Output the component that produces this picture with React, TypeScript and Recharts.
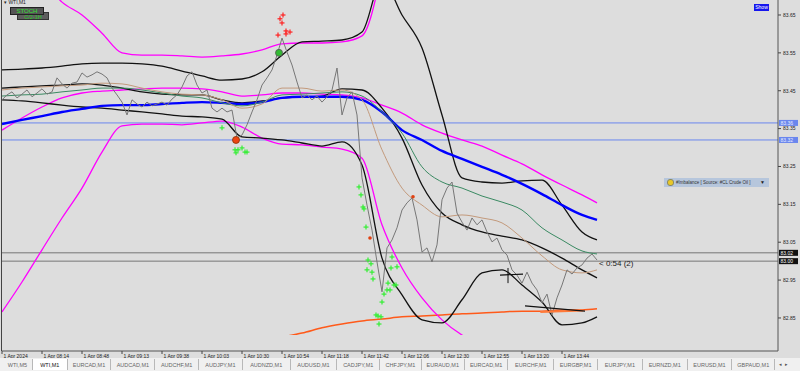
import React from 'react';
import { ComposedChart, Line, Scatter, XAxis, YAxis, ReferenceLine, ReferenceDot } from 'recharts';

// WTI,M1 — price sampled every 3 bars, indicators every 12 bars (last one at bar 357)
const PRICE_STEP = 3;
const BAND_STEP = 12;
const LAST_BAR = 357;
const X_MAX = 465.6;

const price = [
  83.426, 83.439, 83.447, 83.431, 83.441, 83.452, 83.434, 83.444, 83.455, 83.441,
  83.447, 83.484, 83.468, 83.457, 83.470, 83.473, 83.497, 83.486, 83.492, 83.500,
  83.494, 83.484, 83.457, 83.439, 83.420, 83.386, 83.426, 83.415, 83.407, 83.420,
  83.410, 83.415, 83.420, 83.412, 83.428, 83.439, 83.460, 83.489, 83.500, 83.465,
  83.444, 83.452, 83.404, 83.394, 83.404, 83.394, 83.399, 83.325, 83.333, 83.360,
  83.394, 83.426, 83.465, 83.484, 83.505, 83.544, 83.589, 83.552, 83.518, 83.473,
  83.431, 83.439, 83.426, 83.436, 83.420, 83.434, 83.452, 83.510, 83.386, 83.431,
  83.447, 83.386, 83.220, 83.148, 83.082, 82.998, 82.919, 83.035, 83.056, 83.088,
  83.135, 83.154, 83.167, 83.109, 83.024, 83.035, 82.998, 83.043, 83.162, 83.193,
  83.209, 83.127, 83.103, 83.082, 83.114, 83.096, 83.109, 83.077, 83.051, 83.061,
  83.030, 83.016, 82.977, 82.963, 82.942, 82.971, 82.942, 82.924, 82.890, 82.913,
  82.858, 82.903, 82.937, 82.977, 82.966, 82.982, 82.990, 83.008, 83.019, 83.003,
];

const upperBand = [
  83.505, 83.507, 83.510, 83.515, 83.521, 83.523, 83.523, 83.521, 83.515, 83.502,
  83.489, 83.478, 83.481, 83.500, 83.544, 83.579, 83.581, 83.584, 83.605, 83.742,
  83.650, 83.563, 83.386, 83.220, 83.209, 83.206, 83.212, 83.214, 83.148, 83.077, 83.056,
];
const midBand = [
  83.457, 83.460, 83.463, 83.465, 83.468, 83.465, 83.457, 83.447, 83.441, 83.439,
  83.439, 83.426, 83.418, 83.423, 83.431, 83.434, 83.436, 83.455, 83.452, 83.404,
  83.325, 83.201, 83.127, 83.096, 83.077, 83.066, 83.056, 83.035, 83.008, 82.977, 82.956,
];
const lowBand = [
  83.426, 83.423, 83.418, 83.412, 83.407, 83.404, 83.399, 83.394, 83.389, 83.383,
  83.381, 83.375, 83.328, 83.325, 83.320, 83.312, 83.304, 83.315, 83.254, 83.008,
  82.911, 82.845, 82.837, 82.898, 82.969, 82.977, 82.937, 82.892, 82.832, 82.837, 82.853,
];
const outerUpper = [
  83.848, 83.795, 83.742, 83.684, 83.650, 83.602, 83.550, 83.544, 83.544, 83.542,
  83.539, 83.542, 83.547, 83.558, 83.574, 83.576, 83.576, 83.579, 83.595, 83.769,
  null, null, null, null, null, null, null, null, null, null, null,
];
const midMagenta = [
  83.346, 83.378, 83.407, 83.431, 83.444, 83.449, 83.452, 83.455, 83.457, 83.457,
  83.455, 83.447, 83.436, 83.439, 83.444, 83.444, 83.441, 83.439, 83.431, 83.412,
  83.391, 83.360, 83.338, 83.320, 83.304, 83.280, 83.257, 83.228, 83.201, 83.175, 83.154,
];
const outerLower = [
  82.866, 82.945, 83.030, 83.114, 83.193, 83.288, 83.357, 83.362, 83.362, 83.360,
  83.365, 83.370, 83.354, 83.325, 83.309, 83.307, 83.301, 83.296, 83.272, 83.096,
  82.982, 82.903, 82.845, 82.805, 82.779, 82.760, 82.744, 82.734, 82.726, 82.721, 82.718,
];
const blueMa = [
  83.362, 83.373, 83.383, 83.394, 83.402, 83.410, 83.412, 83.412, 83.415, 83.418,
  83.420, 83.418, 83.415, 83.420, 83.431, 83.434, 83.434, 83.434, 83.426, 83.394,
  83.346, 83.320, 83.291, 83.270, 83.249, 83.228, 83.204, 83.177, 83.148, 83.122, 83.109,
];
const greenMa = [
  83.436, 83.439, 83.441, 83.447, 83.452, 83.457, 83.457, 83.452, 83.444, 83.436,
  83.431, 83.418, 83.410, 83.420, 83.439, 83.441, 83.444, 83.447, 83.436, 83.394,
  83.338, 83.249, 83.209, 83.193, 83.172, 83.156, 83.135, 83.088, 83.056, 83.027, 83.019,
];
const brownMa = [
  83.452, 83.457, 83.460, 83.463, 83.465, 83.470, 83.468, 83.457, 83.447, 83.441,
  83.439, 83.426, 83.404, 83.415, 83.457, 83.457, 83.449, 83.452, 83.426, 83.294,
  83.193, 83.148, 83.117, 83.122, 83.114, 83.101, 83.061, 83.014, 82.977, 82.969, 82.977,
];
const slowEma = [
  null, null, null, null, null, null, null, null, null, null, null, null, null, null,
  82.800, 82.810, 82.824, 82.834, 82.842, 82.847, 82.853, 82.855, 82.858, 82.861,
  82.863, 82.866, 82.868, 82.868, 82.871, 82.871, 82.874,
];

// signals: [bar, price]
const sellSignals = [
  [168.6, 83.650], [166.8, 83.640], [168.0, 83.629], [165.6, 83.597],
  [170.4, 83.608], [172.8, 83.605], [170.4, 83.600],
];
const buySignals = [
  [132, 83.352], [139.8, 83.294], [141.6, 83.294], [144, 83.299], [145.8, 83.288],
  [147, 83.288], [140.4, 83.286], [214.2, 83.196], [215.4, 83.175], [216.6, 83.143],
  [217.2, 83.138], [218.4, 83.090], [219.6, 83.003], [221.4, 82.993], [219, 82.977],
  [222, 82.971], [222.6, 82.953], [228, 82.892], [229.2, 82.913], [231, 82.924],
  [231.6, 82.942], [232.8, 82.924], [235.2, 82.937], [236.4, 82.937], [233.4, 82.982],
  [237, 82.985], [234, 83.011], [224.4, 82.858], [225.6, 82.855], [227.4, 82.853],
  [226.2, 82.834],
];
const smallDots = [[220.8, 83.061], [246.6, 83.170]];

const yTicks = [82.85, 82.95, 83.05, 83.15, 83.25, 83.35, 83.45, 83.55, 83.65];
const timeBars = [0, 24, 48, 72, 96, 120, 144, 168, 192, 216, 240, 264, 288, 312, 336];
const timeLabels = [
  '1 Apr 2024', '1 Apr 08:14', '1 Apr 08:48', '1 Apr 09:13', '1 Apr 09:38',
  '1 Apr 10:03', '1 Apr 10:30', '1 Apr 10:54', '1 Apr 11:18', '1 Apr 11:42',
  '1 Apr 12:06', '1 Apr 12:30', '1 Apr 12:55', '1 Apr 13:20', '1 Apr 13:44',
];
const tabs = [
  'WTI,M5', 'WTI,M1', 'EURCAD,M1', 'AUDCAD,M1', 'AUDCHF,M1', 'AUDJPY,M1', 'AUDNZD,M1',
  'AUDUSD,M1', 'CADJPY,M1', 'CHFJPY,M1', 'EURAUD,M1', 'EURCAD,M1', 'EURCHF,M1',
  'EURGBP,M1', 'EURJPY,M1', 'EURNZD,M1', 'EURUSD,M1', 'GBPAUD,M1',
];
const tabWidths = [30, 35, 44, 44, 44, 44, 48, 47, 43, 42, 43, 44, 46, 44, 45, 45, 45, 43];
const stripes = [3.25, 2.4, 1.5, 0.6];

const bandBars = upperBand.map((_, i) => Math.min(i * BAND_STEP, LAST_BAR));
const table = price.map((p, i) => {
  const bar = i * PRICE_STEP;
  const row: any = { bar, price: p };
  const j = bandBars.indexOf(bar);
  if (j >= 0) {
    row.upper = upperBand[j];
    row.mid = midBand[j];
    row.low = lowBand[j];
    row.outerUp = outerUpper[j];
    row.magMid = midMagenta[j];
    row.outerLow = outerLower[j];
    row.blue = blueMa[j];
    row.green = greenMa[j];
    row.brown = brownMa[j];
    row.ema = slowEma[j];
  }
  return row;
});
const toPts = (arr: number[][]) => arr.map(([bar, v]) => ({ bar, v }));

const FONT = '"Liberation Sans", Arial, sans-serif';

const Cross = (color: string) => (props: any) => {
  const { cx, cy } = props;
  return (
    <g stroke={color} strokeWidth={1.2}>
      <line x1={cx - 2.5} y1={cy} x2={cx + 2.5} y2={cy} />
      <line x1={cx} y1={cy - 2.5} x2={cx} y2={cy + 2.5} />
    </g>
  );
};

const priceTag = (text: string, bg: string, fg: string) => (props: any) => {
  const vb = props.viewBox || {};
  const x = (vb.x || 0) + (vb.width || 0) + 1;
  const y = vb.y || 0;
  return (
    <g>
      <rect x={x} y={y - 3} width={19} height={6} fill={bg} />
      <text x={x + 1.5} y={y + 2} fontSize={5} fill={fg} fontFamily={FONT}>{text}</text>
    </g>
  );
};

const timerLabel = (props: any) => {
  const vb = props.viewBox || {};
  return (
    <text x={(vb.cx ?? vb.x) + 2} y={(vb.cy ?? vb.y) + 6} fontSize={8} fill="#222" fontFamily={FONT}>
      {'< 0:54 (2)'}
    </text>
  );
};

const TimeTick = (props: any) => {
  const { x, y, payload } = props;
  const idx = timeBars.indexOf(payload.value);
  return (
    <g>
      <line x1={x} y1={y} x2={x} y2={y + 3} stroke="#444" />
      <text x={x + 1.5} y={y + 6.5} fontSize={5} fill="#222" fontFamily={FONT}>{timeLabels[idx]}</text>
    </g>
  );
};

export default function App() {
  return (
    <div style={{ position: 'absolute', left: 0, top: 0, width: 800, height: 371, background: '#dddddd', overflow: 'hidden', fontFamily: FONT }}>
      <ComposedChart width={800} height={335} data={table} margin={{ top: 0, right: 0, left: 2, bottom: 0 }}>
        <XAxis type="number" dataKey="bar" domain={[0, X_MAX]} hide allowDataOverflow />
        <YAxis
          orientation="right"
          domain={[82.805, 83.6896]}
          ticks={yTicks}
          width={22}
          allowDataOverflow
          tickSize={3}
          tickMargin={2}
          tick={{ fontSize: 5, fill: '#222' }}
          tickLine={{ stroke: '#444' }}
          axisLine={{ stroke: '#555' }}
          tickFormatter={(v: number) => v.toFixed(2)}
        />
        <ReferenceLine y={83.365} stroke="#6a86ee" label={priceTag('83.36', '#6a86ee', '#e8eeff')} />
        <ReferenceLine y={83.32} stroke="#6a86ee" label={priceTag('83.32', '#6a86ee', '#e8eeff')} />
        <ReferenceLine y={83.022} stroke="#777" label={priceTag('83.02', '#111', '#fff')} />
        <ReferenceLine y={83.0} stroke="#777" label={priceTag('83.00', '#111', '#fff')} />

        <Line dataKey="ema" type="monotone" stroke="#ff5a1a" strokeWidth={1.5} dot={false} connectNulls isAnimationActive={false} />
        <Line dataKey="outerUp" type="monotone" stroke="#ff00ff" strokeWidth={1.3} dot={false} connectNulls isAnimationActive={false} />
        <Line dataKey="magMid" type="monotone" stroke="#ff00ff" strokeWidth={1.3} dot={false} connectNulls isAnimationActive={false} />
        <Line dataKey="outerLow" type="monotone" stroke="#ff00ff" strokeWidth={1.3} dot={false} connectNulls isAnimationActive={false} />
        <Line dataKey="upper" type="monotone" stroke="#111" strokeWidth={1.3} dot={false} connectNulls isAnimationActive={false} />
        <Line dataKey="mid" type="monotone" stroke="#111" strokeWidth={1.3} dot={false} connectNulls isAnimationActive={false} />
        <Line dataKey="low" type="monotone" stroke="#111" strokeWidth={1.3} dot={false} connectNulls isAnimationActive={false} />
        <Line dataKey="blue" type="monotone" stroke="#0000ff" strokeWidth={2.4} dot={false} connectNulls isAnimationActive={false} />
        <Line dataKey="green" type="monotone" stroke="#3a8a62" strokeWidth={1} dot={false} connectNulls isAnimationActive={false} />
        <Line dataKey="brown" type="monotone" stroke="#c39a7c" strokeWidth={1} dot={false} connectNulls isAnimationActive={false} />
        <Line dataKey="price" type="linear" stroke="#777" strokeWidth={1} dot={false} isAnimationActive={false} />

        <ReferenceLine segment={[{ x: 298.8, y: 82.963 }, { x: 312.6, y: 82.966 }]} stroke="#111" strokeWidth={1.2} />
        <ReferenceLine segment={[{ x: 303.6, y: 82.982 }, { x: 303.6, y: 82.942 }]} stroke="#111" strokeWidth={1} />
        <ReferenceLine segment={[{ x: 323, y: 82.866 }, { x: 348.6, y: 82.870 }]} stroke="#ff7a3a" strokeWidth={2} />
        <ReferenceLine segment={[{ x: 313.8, y: 82.882 }, { x: 349.8, y: 82.868 }]} stroke="#111" strokeWidth={1.2} />

        <Scatter data={toPts(sellSignals)} dataKey="v" shape={Cross('#ff2020')} isAnimationActive={false} />
        <Scatter data={toPts(buySignals)} dataKey="v" shape={Cross('#33ee33')} isAnimationActive={false} />
        <Scatter data={toPts(smallDots)} dataKey="v" fill="#e04010" shape={(p: any) => <circle cx={p.cx} cy={p.cy} r={1.8} fill="#e04010" />} isAnimationActive={false} />
        <ReferenceDot x={166.2} y={83.550} r={3.5} fill="#33bb33" stroke="#555" strokeWidth={0.8} />
        <ReferenceDot x={140.4} y={83.320} r={3.5} fill="#ee4411" stroke="#883300" strokeWidth={0.8} />
        <ReferenceDot x={LAST_BAR} y={83.003} r={0} fill="none" stroke="none" label={timerLabel} />
      </ComposedChart>

      <div style={{ position: 'absolute', left: 0, top: 335 }}>
        <ComposedChart width={800} height={23} data={[{ bar: 0 }, { bar: X_MAX }]} margin={{ top: 0, right: 0, left: 2, bottom: 0 }}>
          <XAxis
            type="number"
            dataKey="bar"
            domain={[0, X_MAX]}
            ticks={timeBars}
            interval={0}
            height={7}
            tickSize={0}
            tickMargin={0}
            tickLine={false}
            axisLine={{ stroke: '#555' }}
            tick={<TimeTick />}
            allowDataOverflow
          />
          <YAxis orientation="right" width={22} domain={[0, 4]} tick={false} tickLine={false} axisLine={{ stroke: '#555' }} />
          <ReferenceLine y={4} stroke="#444" strokeWidth={1.2} />
          {stripes.map((s) => (
            <ReferenceLine key={s} y={s} stroke="#858585" strokeWidth={1.6} />
          ))}
        </ComposedChart>
      </div>

      <div style={{ position: 'absolute', left: 1, top: 0, width: 1, height: 351, background: '#444' }} />

      <div style={{ position: 'absolute', left: 4, top: 0, fontSize: 5, lineHeight: '5px', color: '#222' }}>▾ WTI,M1</div>
      <div style={{ position: 'absolute', left: 17, top: 12, width: 32, height: 8, background: '#5e5e5e', border: '1px solid #333', boxSizing: 'border-box', color: '#2c2', fontSize: 5.5, textAlign: 'center', lineHeight: '8px' }}>C/2-1H</div>
      <div style={{ position: 'absolute', left: 10, top: 7, width: 34, height: 8, background: '#555', border: '1px solid #222', boxSizing: 'border-box', color: '#33e033', fontSize: 6, textAlign: 'center', lineHeight: '7px' }}>STOCH</div>

      <div style={{ position: 'absolute', left: 754, top: 4, width: 15, height: 7, background: '#1515ee', color: '#fff', fontSize: 5, textAlign: 'center', lineHeight: '7px' }}>Show</div>

      <div style={{ position: 'absolute', left: 664, top: 178, width: 105, height: 9, background: '#b6c6dc', fontSize: 4.5, color: '#333', lineHeight: '9px', whiteSpace: 'nowrap' }}>
        <span style={{ display: 'inline-block', width: 5, height: 5, borderRadius: 3, background: '#e8c828', border: '0.5px solid #886', marginLeft: 3, marginRight: 2, verticalAlign: 'middle' }} />
        #Imbalance [ Source: #CL Crude Oil ]
        <span style={{ position: 'absolute', right: 4, top: 0, fontSize: 5, color: '#222' }}>▼</span>
      </div>

      <div style={{ position: 'absolute', left: 0, top: 358, width: 800, height: 13, background: '#f0f0f0', display: 'flex', fontSize: 5.5, color: '#555', lineHeight: '12px' }}>
        <div style={{ width: 3 }} />
        {tabs.map((t, i) => (
          <div
            key={i}
            style={{
              width: tabWidths[i],
              textAlign: 'center',
              borderRight: '1px solid #b8b8b8',
              boxSizing: 'border-box',
              background: i === 1 ? '#ffffff' : 'transparent',
              color: i === 1 ? '#111' : '#666',
              marginTop: 1,
              height: 11,
            }}
          >
            {t}
          </div>
        ))}
        <div style={{ width: 21, color: '#555', fontSize: 5, paddingLeft: 4 }}>◂&nbsp;&nbsp;▸</div>
      </div>
    </div>
  );
}
